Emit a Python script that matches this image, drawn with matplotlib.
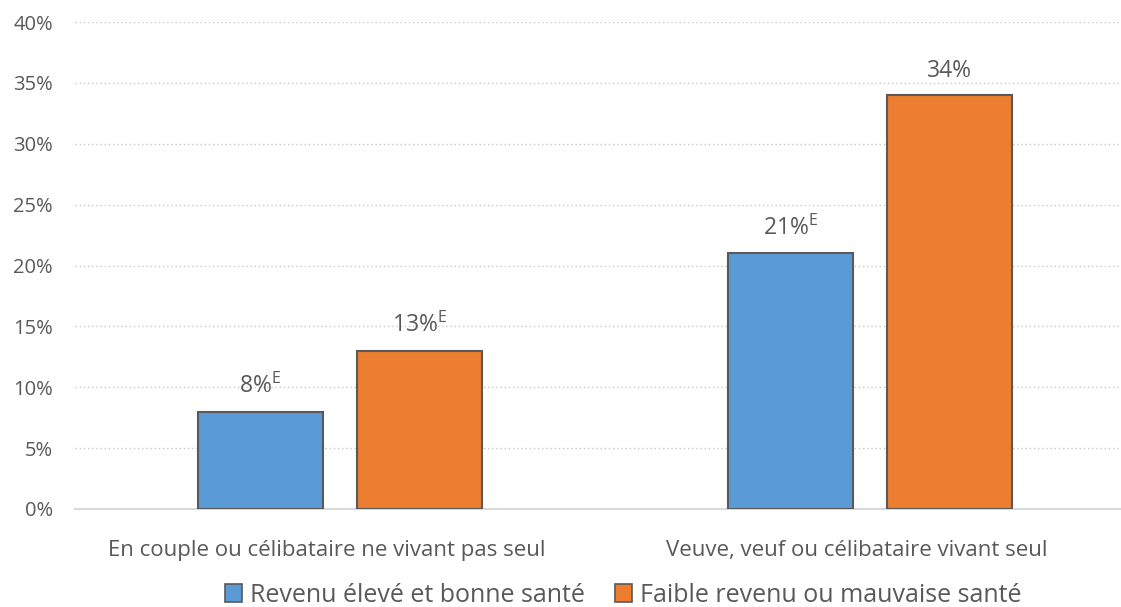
import numpy as np
import matplotlib.pyplot as plt
from matplotlib.patches import Patch

plt.rcParams['font.family'] = ['Open Sans', 'DejaVu Sans']
plt.rcParams['mathtext.fontset'] = 'custom'
plt.rcParams['mathtext.rm'] = 'Open Sans'

categories = ['En couple ou célibataire ne vivant pas seul',
              'Veuve, veuf ou célibataire vivant seul']
series = ['Revenu élevé et bonne santé', 'Faible revenu ou mauvaise santé']
values_high = [8, 21]
values_low = [13, 34]
labels_high = ['8%$^{\\rm E}$', '21%$^{\\rm E}$']
labels_low = ['13%$^{\\rm E}$', '34%']
yticks = [0, 5, 10, 15, 20, 25, 30, 35, 40]

blue = '#5B9BD5'
orange = '#ED7D31'
edge = '#595959'
txt = '#595959'

fig = plt.figure(figsize=(11.21, 6.07), dpi=100)
ax = fig.add_axes([75/1121, 98/607, 1060/1121, 487/607])

x = np.arange(len(categories))
w = 0.236
b1 = ax.bar(x - 0.15, values_high, w, color=blue, edgecolor=edge, linewidth=1.5, zorder=3)
b2 = ax.bar(x + 0.15, values_low, w, color=orange, edgecolor=edge, linewidth=1.5, zorder=3)

for bars, labs in [(b1, labels_high), (b2, labels_low)]:
    for r, lab in zip(bars, labs):
        ax.annotate(lab, (r.get_x() + r.get_width() / 2, r.get_height()),
                    xytext=(0, 9), textcoords='offset points',
                    ha='center', va='bottom', fontsize=16.5, color=txt)

ax.set_xlim(-0.5, 1.5)
ax.set_ylim(0, 40)
ax.set_yticks(yticks)
ax.set_yticklabels([f'{t}%' for t in yticks], fontsize=14.5, color=txt)
ax.set_xticks(x - 0.025)
ax.set_xticklabels(categories, fontsize=16, color=txt)
ax.tick_params(length=0)
ax.tick_params(axis='y', pad=16)
ax.tick_params(axis='x', pad=22)
ax.yaxis.grid(True, linestyle=(0, (1, 2)), color='#c8c8c8', linewidth=1, zorder=0)
for s in ['top', 'right', 'left']:
    ax.spines[s].set_visible(False)
ax.spines['bottom'].set_color('#d9d9d9')
ax.spines['bottom'].set_linewidth(1.5)

handles = [Patch(facecolor=blue, edgecolor=edge, linewidth=1.2),
           Patch(facecolor=orange, edgecolor=edge, linewidth=1.2)]
fig.legend(handles, series, loc='center', bbox_to_anchor=(623/1121, 1 - 595/607),
           ncol=2, frameon=False, fontsize=18, handlelength=0.7, handleheight=0.7,
           handletextpad=0.3, columnspacing=1.2, labelcolor=txt)

fig.savefig('out.png', dpi=100)
